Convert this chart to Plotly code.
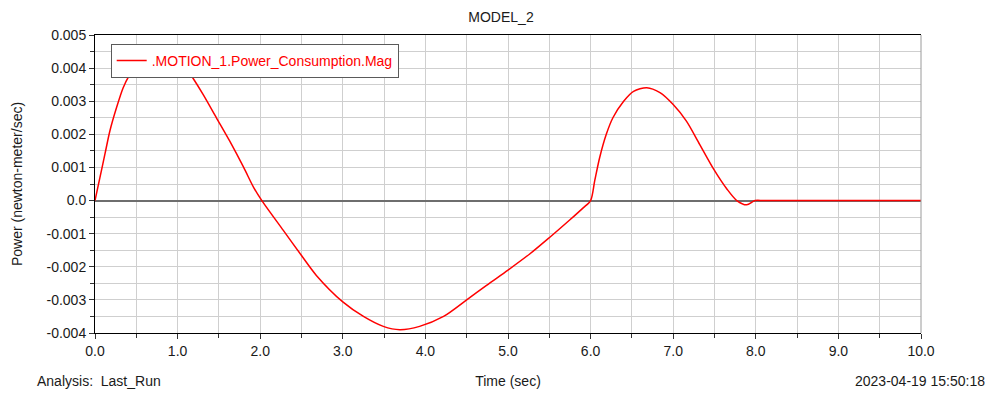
import plotly.graph_objects as go

time_s = [0.0, 0.06, 0.12, 0.18, 0.26, 0.34, 0.42, 0.5, 0.6, 0.7, 0.8, 0.9, 1.0, 1.08, 1.16,
          1.31, 1.47, 1.63, 1.80, 1.92, 2.02, 2.28, 2.50, 2.68, 3.0, 3.25, 3.49, 3.69, 3.93,
          4.22, 4.50, 4.74, 5.0, 5.27, 5.51, 5.75, 5.91, 6.0, 6.05, 6.11, 6.19, 6.27, 6.40,
          6.52, 6.68, 6.84, 7.0, 7.16, 7.32, 7.49, 7.65, 7.77, 7.89, 7.99, 8.1, 9.0, 10.0]
power = [0.0, 0.0007, 0.0014, 0.0021, 0.0028, 0.0034, 0.0038, 0.0041, 0.0043, 0.0045, 0.0045,
         0.0045, 0.0044, 0.0041, 0.0038, 0.0032, 0.0025, 0.0018, 0.0010, 0.0004, 0.0,
         -0.0009, -0.00166, -0.00226, -0.00306, -0.0035, -0.0038, -0.0039, -0.0038,
         -0.0035, -0.0030, -0.00256, -0.0021, -0.0016, -0.00110, -0.00058, -0.00022, 0.0,
         0.0006, 0.0013, 0.0020, 0.0025, 0.0030, 0.0033, 0.00341, 0.00326, 0.0029, 0.0024,
         0.0017, 0.00095, 0.00035, 0.0, -0.00013, 0.0, 0.0, 0.0, 0.0]

x_ticks = [0, 1, 2, 3, 4, 5, 6, 7, 8, 9, 10]
x_ticklabels = ["0.0", "1.0", "2.0", "3.0", "4.0", "5.0", "6.0", "7.0", "8.0", "9.0", "10.0"]
y_ticks = [-0.004, -0.003, -0.002, -0.001, 0.0, 0.001, 0.002, 0.003, 0.004, 0.005]
y_ticklabels = ["-0.004", "-0.003", "-0.002", "-0.001", "0.0", "0.001", "0.002", "0.003", "0.004", "0.005"]

FONT = "Liberation Sans, Arial, sans-serif"
FS = 14

fig = go.Figure()
fig.add_trace(go.Scatter(x=time_s, y=power, mode="lines",
                         name=".MOTION_1.Power_Consumption.Mag",
                         line=dict(color="#ff0000", width=1.5, shape="spline", smoothing=0.8)))

fig.update_layout(
    width=986, height=386,
    margin=dict(l=87, r=73, t=27, b=61),
    paper_bgcolor="white", plot_bgcolor="white",
    font=dict(family=FONT, size=FS, color="#1a1a1a"),
    title=dict(text="MODEL_2", x=0.5, xanchor="center", y=1 - 9 / 386, yanchor="middle",
               font=dict(family=FONT, size=FS, color="#1a1a1a")),
    showlegend=True,
    legend=dict(x=0.019, y=0.97, xanchor="left", yanchor="top",
                bgcolor="white", bordercolor="#5a5a5a", borderwidth=1,
                font=dict(family=FONT, size=FS, color="#ff0000"),
                itemwidth=30),
    xaxis=dict(range=[0, 10], tickvals=x_ticks, ticktext=x_ticklabels,
               showgrid=True, gridcolor="#cfcfcf", gridwidth=1,
               showline=True, linecolor="black", linewidth=1, mirror=True,
               ticks="outside", ticklen=5, tickcolor="#333",
               minor=dict(dtick=0.5, showgrid=True, gridcolor="#cfcfcf", ticks="outside",
                          ticklen=4, tickcolor="#333"),
               zeroline=False, automargin=False,
               title=dict(text="Time (sec)", standoff=18, font=dict(family=FONT, size=FS))),
    yaxis=dict(range=[-0.004, 0.005], tickvals=y_ticks, ticktext=y_ticklabels,
               showgrid=True, gridcolor="#cfcfcf", gridwidth=1,
               showline=True, linecolor="black", linewidth=1,
               ticks="outside", ticklen=5, tickcolor="#333",
               minor=dict(dtick=0.0005, showgrid=True, gridcolor="#cfcfcf", ticks="outside",
                          ticklen=4, tickcolor="#333"),
               zeroline=True, zerolinecolor="#6e6e6e", zerolinewidth=1.5,
               automargin=False,
               title=dict(text="Power (newton-meter/sec)", standoff=20,
                          font=dict(family=FONT, size=FS))),
)

fig.add_shape(type="line", xref="paper", yref="paper", x0=1, x1=1, y0=0, y1=1,
              line=dict(color="#9a9a9a", width=1))

fig.add_annotation(text="Analysis:  Last_Run", xref="paper", yref="paper",
                   x=(35 - 95) / 826, y=(333 - 381) / 298, xanchor="left", yanchor="middle",
                   showarrow=False, font=dict(family=FONT, size=FS, color="#1a1a1a"))
fig.add_annotation(text="2023-04-19 15:50:18", xref="paper", yref="paper",
                   x=(987 - 95) / 826, y=(333 - 381) / 298, xanchor="right", yanchor="middle",
                   showarrow=False, font=dict(family=FONT, size=FS, color="#1a1a1a"))

fig.write_html("out.html")
